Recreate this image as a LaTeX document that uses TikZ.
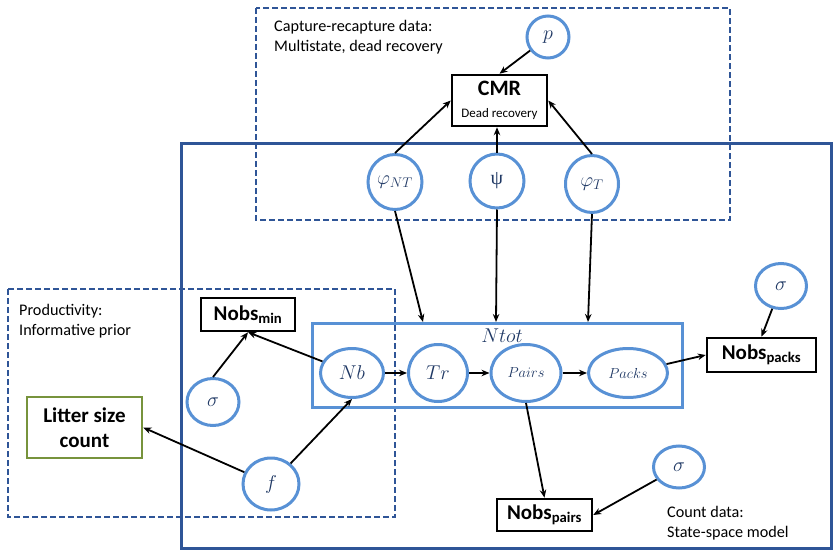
\documentclass[tikz,border=0pt]{standalone}
\usepackage{fix-cm}
\usepackage{amsmath}
\usepackage{fontspec}
\setmainfont{Carlito}
\newfontfamily\greekserif{Liberation Serif}
\usetikzlibrary{shapes.geometric,arrows.meta}
\definecolor{nodeblue}{RGB}{88,145,213}
\definecolor{frameblue}{RGB}{47,85,151}
\definecolor{textblue}{RGB}{31,56,100}
\definecolor{littergreen}{RGB}{119,147,60}
\tikzset{
  latent/.style={ellipse,draw=nodeblue,line width=3pt,text=textblue,inner sep=0pt,
    font=\fontsize{20}{24}\selectfont},
  obs/.style={rectangle,draw=black,line width=2.5pt,inner sep=0pt,align=center,
    font=\fontsize{21}{25}\selectfont\bfseries},
  plate/.style={draw=frameblue,line width=2pt,dash pattern=on 6pt off 3pt},
  note/.style={anchor=north west,inner sep=0pt,align=left,
    font=\fontsize{16.2}{20.5}\selectfont},
  edge/.style={draw=black,line width=1.8pt,-{Stealth[length=8pt,width=6.5pt]}}
}
\begin{document}
\begin{tikzpicture}[x=1pt,y=-1pt]
      \useasboundingbox (0,0) rectangle (833,551);
      \draw[frameblue,line width=3pt] (181,143) rectangle (831,548);
      \draw[plate] (256,8) rectangle (730,220);
      \draw[plate] (8,289) rectangle (395,517);
      \node[note] (cmrnote) at (274,20) {Capture-recapture data:\\Multistate, dead recovery};
      \node[note] (prodnote) at (19,304) {Productivity:\\Informative prior};
      \node[note] (countnote) at (667,506) {Count data:\\State-space model};
      \node[rectangle,draw=nodeblue,line width=3pt,minimum width=370pt,minimum height=84pt]
        (ntot) at (497.5,365.5) {};
      \node[text=textblue,font=\fontsize{20}{24}\selectfont] (ntotlabel) at (502,336) {$Ntot$};
      \draw
        (548,37) node[latent,minimum width=42pt,minimum height=42pt] (p){$p$}
        (395,182) node[latent,minimum width=54pt,minimum height=55pt] (phint){$\varphi_{NT}$}
        (497,181) node[latent,minimum width=54pt,minimum height=54pt] (psi){\greekserif ψ}
        (592,184) node[latent,minimum width=53pt,minimum height=57pt] (phit){$\varphi_{T}$}
        (213,402) node[latent,minimum width=52pt,minimum height=47pt] (sigmin){$\sigma$}
        (271,484) node[latent,minimum width=56pt,minimum height=52pt] (f){$f$}
        (352,373) node[latent,minimum width=63pt,minimum height=49pt] (nb){$Nb$}
        (438,373) node[latent,minimum width=59pt,minimum height=57pt] (tr){$Tr$}
        (526,373) node[latent,minimum width=70pt,minimum height=57pt,
          font=\fontsize{14.5}{17}\selectfont] (pairs){$Pairs$}
        (628,373) node[latent,minimum width=79pt,minimum height=49pt,
          font=\fontsize{14.5}{17}\selectfont] (packs){$Packs$}
        (781,286) node[latent,minimum width=51pt,minimum height=45pt] (sigpacks){$\sigma$}
        (679,467) node[latent,minimum width=51pt,minimum height=42pt] (sigpairs){$\sigma$};
      \draw
        (499.5,100.5) node[obs,minimum width=95pt,minimum height=51pt] (cmr)
          {\fontsize{22}{26}\selectfont CMR\\[-3pt]{\mdseries\fontsize{13}{15}\selectfont Dead recovery}}
        (248,314.5) node[obs,minimum width=94pt,minimum height=33pt] (nobsmin){Nobs$_{\textbf{min}}$}
        (761.5,355) node[obs,minimum width=109pt,minimum height=34pt] (nobspacks){Nobs$_{\textbf{packs}}$}
        (544.5,515) node[obs,minimum width=95pt,minimum height=32pt] (nobspairs){Nobs$_{\textbf{pairs}}$}
        (84.5,427.5) node[obs,draw=littergreen,minimum width=115pt,minimum height=61pt] (litter){Litter size\\count};
      \coordinate (inNT) at (423,322);
      \coordinate (inpsi) at (496,322);
      \coordinate (inT) at (588,322);
      \begin{scope}[edge]
        \draw (p) to (cmr.north);
        \draw (phint.north) to (cmr.west);
        \draw (psi.north) to (psi.north |- cmr.south);
        \draw (phit.north) to (cmr.east);
        \draw (phint.south) to (inNT);
        \draw (psi.south) to (inpsi);
        \draw (phit.south) to (inT);
        \draw (nb) to (tr);
        \draw (tr) to (pairs);
        \draw (pairs) to (packs);
        \draw (packs) to (nobspacks.west);
        \draw (sigpacks) to (nobspacks.north);
        \draw (pairs.south) to (nobspairs.north);
        \draw (sigpairs) to (nobspairs.east);
        \draw (nb) to (nobsmin.south);
        \draw (sigmin.north) to (nobsmin.south);
        \draw (f) to (nb.south);
        \draw (f) to (litter.east);
      \end{scope}
    \end{tikzpicture}
\end{document}
